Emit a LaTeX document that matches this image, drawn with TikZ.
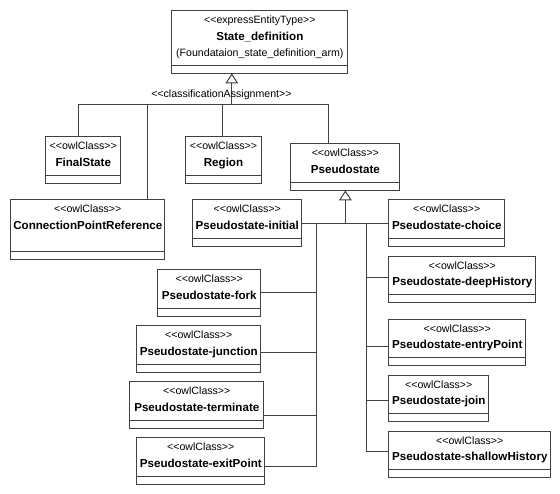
\documentclass[tikz,border=0pt]{standalone}
\usepackage{fontspec}
\setmainfont{Liberation Sans}
\usetikzlibrary{calc}
\definecolor{linec}{HTML}{404040}
\newcommand\sopen{<\kern0pt<}
\newcommand\sclose{>\kern0pt>}
\tikzset{
  cls/.style={draw=linec, fill=white, line width=1pt, inner sep=0pt, anchor=north west},
  stxt/.style={font=\fontsize{10.6}{12}\selectfont, inner sep=0pt, anchor=base},
  ntxt/.style={font=\fontsize{11.6}{13}\selectfont\bfseries, inner sep=0pt, anchor=base},
  conn/.style={draw=linec, line width=1pt},
  gentri/.style={draw=linec, fill=white, line width=1pt, line join=miter},
}
\newcommand\classbox[6]{%
  \node[cls, minimum width=#4pt, minimum height=#5pt] (#1) at (#2,#3) {};
  \draw[conn] ($(#1.south west)+(0,-9)$) -- ($(#1.south east)+(0,-9)$);
  \node[stxt] at ($(#1.north)+(0,13.5)$) {\sopen owlClass\sclose};
  \node[ntxt] at ($(#1.north)+(0,30)$) {#6};
}
\begin{document}
\begin{tikzpicture}[x=1pt,y=-1pt]
\useasboundingbox (0,0) rectangle (560,494);
\fill[white] (0,0) rectangle (560,494);

% top class
\node[cls, minimum width=175.9pt, minimum height=63pt] (statedef) at (171.4,10.3) {};
\draw[conn] ($(statedef.south west)+(0,-9)$) -- ($(statedef.south east)+(0,-9)$);
\node[stxt] at ($(statedef.north)+(0,13.5)$) {\sopen expressEntityType\sclose};
\node[ntxt] at ($(statedef.north)+(0,30)$) {State\_definition};
\node[stxt] at ($(statedef.north)+(0,46.2)$) {(Foundataion\_state\_definition\_arm)};

% classes
\classbox{finalstate}{45.2}{136.3}{75.1}{46.8}{FinalState}
\classbox{region}{185.4}{136.3}{75.2}{47}{Region}
\classbox{cpr}{10.3}{199.2}{154}{60}{ConnectionPointReference}
\classbox{pseudostate}{290.4}{143.3}{108.9}{47}{Pseudostate}
\classbox{initial}{192.3}{199.3}{109}{47}{Pseudostate-initial}
\classbox{choice}{388.3}{199.3}{116}{47}{Pseudostate-choice}
\classbox{deephist}{388.3}{255.7}{147}{46.6}{Pseudostate-deepHistory}
\classbox{entry}{388.3}{318.7}{137}{46.6}{Pseudostate-entryPoint}
\classbox{join}{388.3}{374.7}{100}{46.6}{Pseudostate-join}
\classbox{shallow}{388.3}{430.7}{162}{46.6}{Pseudostate-shallowHistory}
\classbox{fork}{157.3}{269.3}{103}{47}{Pseudostate-fork}
\classbox{junction}{136.3}{325.3}{124}{47}{Pseudostate-junction}
\classbox{terminate}{129.3}{381.3}{134}{47}{Pseudostate-terminate}
\classbox{exit}{136.3}{437.3}{128}{47}{Pseudostate-exitPoint}

% generalization to State_definition
\coordinate (apex1) at ($(statedef.south west)+(60.4,0)$);
\draw[conn] ($(apex1)+(0,8.5)$) -- ++(0,21.5) coordinate (bus1);
\coordinate (fsTop) at ($(finalstate.north west)+(33.4,0)$);
\coordinate (psTop) at ($(pseudostate.north west)+(37.8,0)$);
\coordinate (rgTop) at ($(region.north west)+(36.7,0)$);
\coordinate (cpTop) at ($(cpr.north west)+(137.2,0)$);
\draw[conn] (fsTop) -- (fsTop |- bus1) -- (psTop |- bus1) -- (psTop);
\draw[conn] (rgTop) -- (rgTop |- bus1);
\draw[conn] (cpTop) -- (cpTop |- bus1);
\draw[gentri] (apex1) -- ++(-5.5,8.5) -- ++(11,0) -- cycle;
\node[stxt] (clabel) at ($(bus1)+(-10.4,-6.8)$) {\sopen classificationAssignment\sclose};

% generalization to Pseudostate
\coordinate (apex2) at (pseudostate.south);
\draw[conn] ($(apex2)+(0,8.5)$) -- (apex2 |- initial.east);
\draw[conn] (initial.east) -- (choice.west);
\draw[gentri] (apex2) -- ++(-5.5,8.5) -- ++(11,0) -- cycle;

\coordinate (tL) at ($(initial.north east)+(14,0)$);
\coordinate (tR) at ($(choice.north west)+(-21.6,0)$);

\coordinate (cFork) at ($(fork.north east)+(0,23)$);
\coordinate (cJunc) at ($(junction.north east)+(0,27)$);
\coordinate (cTerm) at ($(terminate.north east)+(0,34)$);
\coordinate (cExit) at ($(exit.north east)+(0,28.7)$);
\draw[conn] (tL |- initial.east) -- (tL |- cExit) -- (cExit);
\draw[conn] (cFork) -- (tL |- cFork);
\draw[conn] (cJunc) -- (tL |- cJunc);
\draw[conn] (cTerm) -- (tL |- cTerm);

\coordinate (cDeep) at ($(deephist.north west)+(0,21.6)$);
\coordinate (cEntry) at ($(entry.north west)+(0,27.6)$);
\coordinate (cJoin) at ($(join.north west)+(0,25.6)$);
\coordinate (cShal) at ($(shallow.north west)+(0,20.3)$);
\draw[conn] (tR |- initial.east) -- (tR |- cShal) -- (cShal);
\draw[conn] (cDeep) -- (tR |- cDeep);
\draw[conn] (cEntry) -- (tR |- cEntry);
\draw[conn] (cJoin) -- (tR |- cJoin);
\end{tikzpicture}
\end{document}
